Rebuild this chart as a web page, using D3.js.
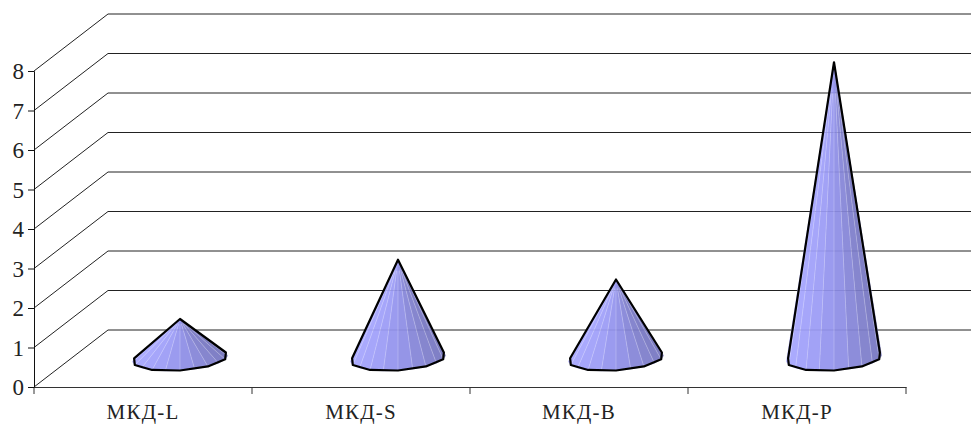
<!DOCTYPE html>
<html><head><meta charset="utf-8">
<script src="https://cdn.jsdelivr.net/npm/d3@7"></script>
<style>html,body{margin:0;background:#fff}svg{display:block}text{font-family:"Liberation Serif","Times New Roman",serif;fill:#222}</style>
</head><body><svg id="c" width="971" height="425"></svg>
<script>
const categories = ["МКД-L","МКД-S","МКД-В","МКД-Р"];
const values = [1, 2.5, 2, 7.5];
const yTicks = [0,1,2,3,4,5,6,7,8];

const svg = d3.select("#c");
const x = d3.scaleBand().domain(categories).range([34,906]);
const y = d3.scaleLinear().domain([0,8]).range([387,71]);
const depthX = 74, depthY = -57, wallRight = 971;

// walls
svg.append("g").selectAll("path").data(yTicks).join("path")
  .attr("fill","none").attr("stroke","#222").attr("stroke-width",1)
  .attr("d",v=>`M${x.range()[0]},${y(v)}L${x.range()[0]+depthX},${y(v)+depthY}H${wallRight}`);

// cones
const rx=47.5, ry=12, tilt=3;
const outlineAngles=[-15,18,54,90,126,162,195];
const basePt=(cx,cy,t)=>{const r=t*Math.PI/180;return [cx+rx*Math.cos(r),cy+ry*Math.sin(r)-tilt*Math.cos(r)];};
const shade=d3.scaleLinear().domain([-47,-20,10,47]).range(["#a6a6ff","#9a9af6","#8c8ce4","#7474bc"]);
const cones=svg.append("g").selectAll("g").data(values).join("g");
cones.each(function(v,i){
  const g=d3.select(this);
  const cx=x(categories[i])+x.bandwidth()/2+depthX/2;
  const cy=y(0)+depthY/2;
  const ax=cx, ay=cy-(y(0)-y(v));
  const sub=[];
  for(let k=0;k<outlineAngles.length-1;k++){
    const a=outlineAngles[k],b=outlineAngles[k+1];
    for(let s=0;s<2;s++) sub.push([a+(b-a)*s/2,a+(b-a)*(s+1)/2]);
  }
  const bg=g.append("g").attr("opacity",.93);
  sub.forEach(([a,b])=>{
    const p=basePt(cx,cy,a),q=basePt(cx,cy,b);
    const c=shade((p[0]+q[0])/2-cx);
    bg.append("path").attr("d",`M${ax},${ay}L${p}L${q}Z`)
     .attr("fill",c).attr("stroke",c).attr("stroke-width",.4);
  });
  sub.slice(1).forEach(([a])=>{
    const p=basePt(cx,cy,a);
    g.append("line").attr("x1",ax+(p[0]-ax)*.1).attr("y1",ay+(p[1]-ay)*.1).attr("x2",p[0]).attr("y2",p[1])
     .attr("stroke","#fff").attr("stroke-opacity",.3).attr("stroke-width",.8);
  });
  const pts=outlineAngles.map(t=>basePt(cx,cy,t));
  g.append("path").attr("fill","none").attr("stroke","#000").attr("stroke-width",2.2).attr("stroke-linejoin","round")
   .attr("d",d3.line()([[ax,ay],...pts])+"Z");
});

// axes
const xAxis=d3.axisBottom(x).tickSizeInner(0).tickSizeOuter(0).tickPadding(17);
const gx=svg.append("g").attr("transform",`translate(0,${y(0)})`).call(xAxis);
gx.select(".domain").attr("stroke","#333");
gx.selectAll("text").style("font-size","21px").attr("letter-spacing","1.2px");
svg.append("g").selectAll("line").data([...categories.map(c=>x(c)),x.range()[1]]).join("line")
  .attr("x1",d=>d).attr("x2",d=>d).attr("y1",y(0)).attr("y2",y(0)+7).attr("stroke","#333");
const yAxis=d3.axisLeft(y).tickValues(yTicks).tickSizeOuter(0).tickSize(6).tickPadding(4);
const gy=svg.append("g").attr("transform",`translate(${x.range()[0]},0)`).call(yAxis);
gy.select(".domain").attr("stroke","#111");
gy.selectAll(".tick line").attr("stroke","#111");
gy.selectAll("text").style("font-size","23px").attr("dy","0.34em");
</script></body></html>
